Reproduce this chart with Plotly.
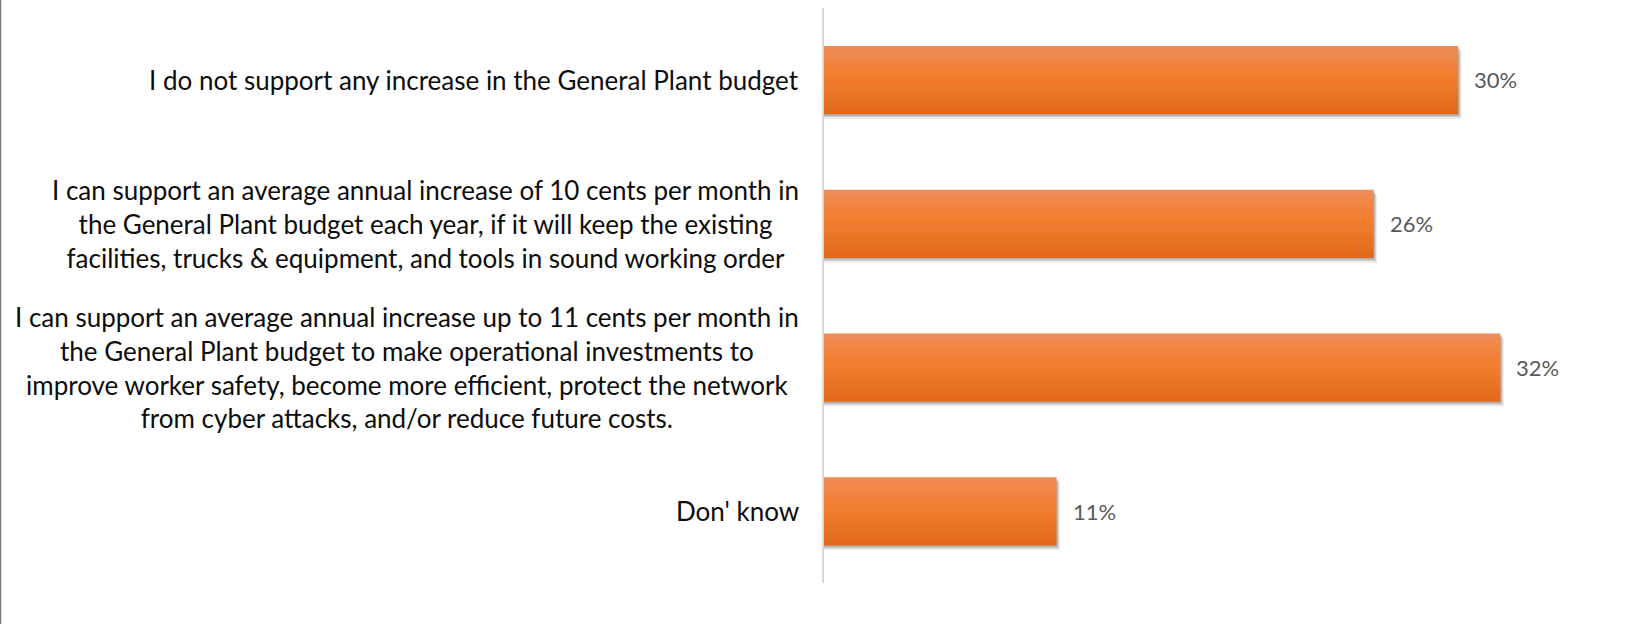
import plotly.graph_objects as go

# Survey responses on the General Plant budget
categories = [
    "I do not support any increase in the General Plant budget",
    "I can support an average annual increase of 10 cents per month in<br>the General Plant budget each year, if it will keep the existing<br>facilities, trucks & equipment, and tools in sound working order",
    "I can support an average annual increase up to 11 cents per month in<br>the General Plant budget to make operational investments to<br>improve worker safety, become more efficient, protect the network<br>from cyber attacks, and/or reduce future costs.",
    "Don' know",
]
values = [30, 26, 32, 11]
value_labels = [f"{v}%" for v in values]

keys = [f"c{i}" for i in range(len(categories))]

FONT = "Lato"
BAR_H = 0.473          # bar thickness in category units
N_STRIPS = 18          # strips used to shade the bar top-to-bottom

stops = [(0.0, (239, 140, 86)), (0.45, (243, 126, 46)), (1.0, (226, 104, 26))]


def shade(t):
    for (t0, c0), (t1, c1) in zip(stops[:-1], stops[1:]):
        if t0 <= t <= t1:
            f = (t - t0) / (t1 - t0)
            r, g, b = (round(a + (b_ - a) * f) for a, b_ in zip(c0, c1))
            return f"rgb({r},{g},{b})"
    r, g, b = stops[-1][1]
    return f"rgb({r},{g},{b})"


fig = go.Figure()

# soft drop shadow beneath each bar
for k, (dy, dx, a) in enumerate([(0.034, 0.16, 0.10), (0.024, 0.11, 0.14), (0.014, 0.06, 0.20)]):
    fig.add_trace(go.Bar(
        y=keys, x=[v + dx for v in values], orientation="h",
        width=BAR_H, offset=-BAR_H / 2 + dy,
        marker=dict(color=f"rgba(60,60,60,{a})", line=dict(width=0)),
        hoverinfo="skip", showlegend=False,
    ))

# shaded bar body
step = BAR_H / N_STRIPS
for i in range(N_STRIPS):
    fig.add_trace(go.Bar(
        y=keys, x=values, orientation="h",
        width=step + 0.003, offset=-BAR_H / 2 + i * step,
        marker=dict(color=shade((i + 0.5) / N_STRIPS), line=dict(width=0)),
        hoverinfo="skip", showlegend=False,
    ))

annotations = []
for key, text in zip(keys, categories):
    annotations.append(dict(
        x=0, xref="paper", y=key, yref="y", xanchor="right", yanchor="middle",
        xshift=-23, text=text, align="center", showarrow=False,
        font=dict(family=FONT, size=26, color="#0D0D0D"),
    ))
for key, v, lab in zip(keys, values, value_labels):
    annotations.append(dict(
        x=v, xref="x", y=key, yref="y", xanchor="left", yanchor="middle",
        xshift=14, text=lab, showarrow=False,
        font=dict(family=FONT, size=22, color="#595959"),
    ))

fig.update_layout(
    width=1631, height=624,
    margin=dict(l=824, r=46, t=8, b=41),
    paper_bgcolor="white", plot_bgcolor="white",
    barmode="overlay",
    showlegend=False,
    xaxis=dict(range=[0, 36], visible=False, showgrid=False, zeroline=False),
    yaxis=dict(
        categoryorder="array", categoryarray=keys, autorange="reversed",
        showticklabels=False, showgrid=False, zeroline=False,
        showline=True, linecolor="#D9D9D9", linewidth=2, ticks="",
    ),
    annotations=annotations,
    shapes=[dict(
        type="line", xref="paper", yref="paper", xsizemode="pixel", ysizemode="scaled",
        xanchor=0, x0=-823.5, x1=-823.5, y0=-0.1, y1=1.1,
        line=dict(color="#7A7A7A", width=1.5),
    )],
)

fig.write_html("out.html")
